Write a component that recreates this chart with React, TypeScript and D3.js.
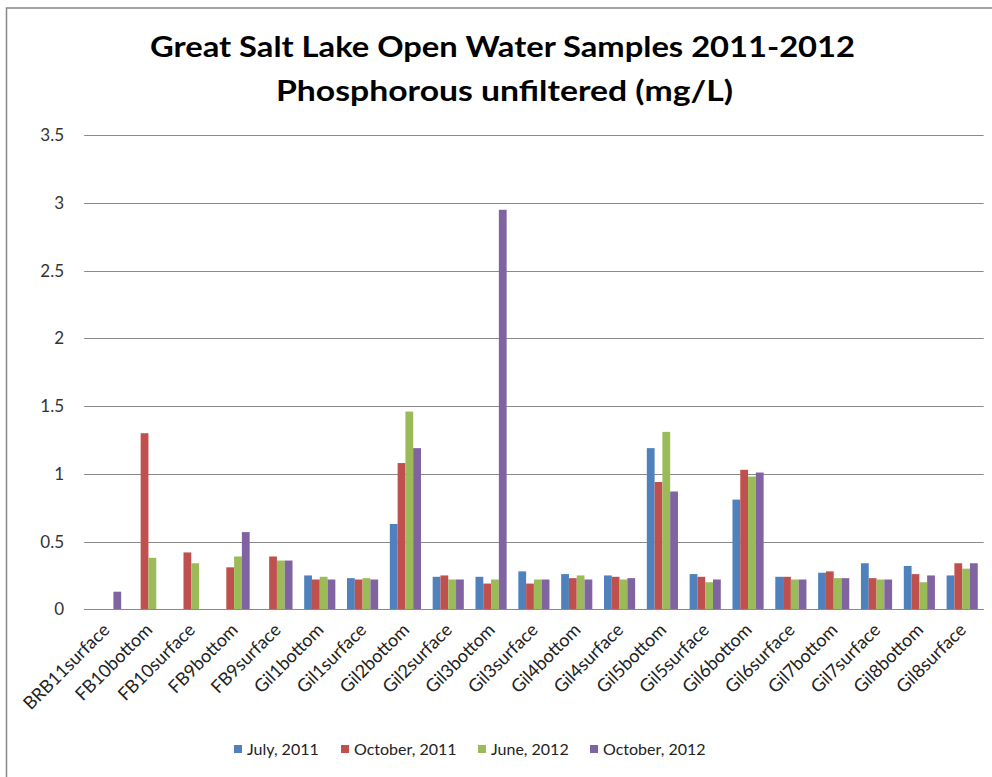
import React from "react";
import * as d3 from "d3";

const categories = [
  "BRB11surface", "FB10bottom", "FB10surface", "FB9bottom", "FB9surface",
  "Gil1bottom", "Gil1surface", "Gil2bottom", "Gil2surface", "Gil3bottom",
  "Gil3surface", "Gil4bottom", "Gil4surface", "Gil5bottom", "Gil5surface",
  "Gil6bottom", "Gil6surface", "Gil7bottom", "Gil7surface", "Gil8bottom", "Gil8surface",
];

const july2011 = [null, null, null, null, null, 0.25, 0.23, 0.63, 0.24, 0.24, 0.28, 0.26, 0.25, 1.19, 0.26, 0.81, 0.24, 0.27, 0.34, 0.32, 0.25];
const october2011 = [null, 1.30, 0.42, 0.31, 0.39, 0.22, 0.22, 1.08, 0.25, 0.19, 0.19, 0.23, 0.24, 0.94, 0.24, 1.03, 0.24, 0.28, 0.23, 0.26, 0.34];
const june2012 = [null, 0.38, 0.34, 0.39, 0.36, 0.24, 0.23, 1.46, 0.22, 0.22, 0.22, 0.25, 0.22, 1.31, 0.20, 0.98, 0.22, 0.23, 0.22, 0.20, 0.30];
const october2012 = [0.13, null, null, 0.57, 0.36, 0.22, 0.22, 1.19, 0.22, 2.95, 0.22, 0.22, 0.23, 0.87, 0.22, 1.01, 0.22, 0.23, 0.22, 0.25, 0.34];

const seriesNames = ["July, 2011", "October, 2011", "June, 2012", "October, 2012"];
const seriesColors = ["#4F81BD", "#C0504D", "#9BBB59", "#8064A2"];
const seriesValues = [july2011, october2011, june2012, october2012];

const yTicks = [0, 0.5, 1, 1.5, 2, 2.5, 3, 3.5];

const titleLines = ["Great Salt Lake Open Water Samples 2011-2012", "Phosphorous unfiltered (mg/L)"];

const W = 992;
const H = 777;
const FONT = "Lato, 'Open Sans', sans-serif";

export default function App() {
  const plotLeft = 84.2;
  const plotRight = 983.6;
  const plotTop = 135.3;
  const plotBottom = 609.3;

  const x = d3
    .scaleBand<string>()
    .domain(categories)
    .range([plotLeft, plotRight])
    .paddingInner(1.5 / 5.5)
    .paddingOuter(0.75 / 5.5);

  const xs = d3
    .scaleBand<number>()
    .domain(d3.range(seriesNames.length))
    .range([0, x.bandwidth()]);

  const y = d3.scaleLinear().domain([0, 3.5]).range([plotBottom, plotTop]);

  const legendStarts = [234, 341, 478, 590];

  return (
    <svg
      width={W}
      height={H}
      style={{ position: "absolute", left: 0, top: 0, background: "#fff" }}
      fontFamily={FONT}
    >
      <rect x={0} y={0} width={W} height={H} fill="#fff" />
      <rect x={6.5} y={8} width={1010} height={800} fill="none" stroke="#888" strokeWidth={1.5} />

      {/* title */}
      <text x={502.5} y={57} textAnchor="middle" fontSize={29} fontWeight="bold" fill="#000"
        textLength={705} lengthAdjust="spacingAndGlyphs">
        {titleLines[0]}
      </text>
      <text x={504.5} y={101} textAnchor="middle" fontSize={29} fontWeight="bold" fill="#000"
        textLength={457} lengthAdjust="spacingAndGlyphs">
        {titleLines[1]}
      </text>

      {/* gridlines */}
      {yTicks.map((t) => (
        <g key={t}>
          <line x1={plotLeft} x2={plotRight} y1={Math.round(y(t)) + 0.5} y2={Math.round(y(t)) + 0.5}
            stroke="#8a8a8a" strokeWidth={1} />
          <text x={64} y={y(t)} dy="0.35em" textAnchor="end" fontSize={17} fill="#333">
            {String(t)}
          </text>
        </g>
      ))}

      {/* bars */}
      {seriesValues.map((vals, si) => (
        <g key={si} fill={seriesColors[si]}>
          {vals.map((v, ci) =>
            v == null ? null : (
              <rect
                key={ci}
                x={(x(categories[ci]) as number) + (xs(si) as number)}
                y={y(v)}
                width={xs.bandwidth()}
                height={y(0) - y(v)}
              />
            )
          )}
        </g>
      ))}

      {/* baseline axis */}
      <line x1={plotLeft} x2={plotRight} y1={Math.round(y(0)) + 0.5} y2={Math.round(y(0)) + 0.5}
        stroke="#8a8a8a" strokeWidth={1} />

      {/* x labels */}
      {categories.map((c) => {
        const cx = (x(c) as number) + x.bandwidth() / 2 + 5;
        const cy = 631;
        return (
          <text key={c} transform={`translate(${cx},${cy}) rotate(-45)`} textAnchor="end"
            fontSize={18} fill="#222">
            {c}
          </text>
        );
      })}

      {/* legend */}
      {seriesNames.map((n, i) => (
        <g key={n} transform={`translate(${legendStarts[i]},0)`}>
          <rect x={0} y={745} width={8} height={8} fill={seriesColors[i]} />
          <text x={13} y={754.5} fontSize={16} fill="#222">
            {n}
          </text>
        </g>
      ))}
    </svg>
  );
}
